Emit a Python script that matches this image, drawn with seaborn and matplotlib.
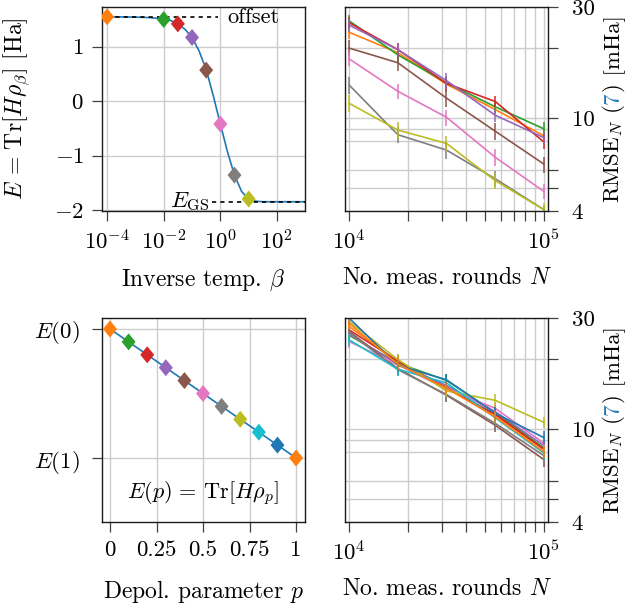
import matplotlib
matplotlib.use("Agg")
import numpy as np
import pandas as pd
import matplotlib.pyplot as plt
from matplotlib.path import Path
from matplotlib.markers import MarkerStyle
from matplotlib.ticker import FixedLocator, FixedFormatter, NullFormatter
import seaborn as sns

# ---------------------------------------------------------------- data
# thermal energy curve E(beta)
beta_curve = [1.0e-4, 1.0e-3, 3.16e-3, 1.0e-2, 1.78e-2, 3.16e-2, 5.62e-2, 1.0e-1,
              1.78e-1, 3.16e-1, 5.62e-1, 1.0, 1.78, 3.16, 5.62, 10.0, 17.8, 31.6,
              100.0, 1000.0]
energy_curve = [1.55, 1.545, 1.535, 1.51, 1.48, 1.42, 1.32, 1.17, 0.92, 0.58, 0.10,
                -0.42, -0.93, -1.36, -1.66, -1.80, -1.84, -1.85, -1.85, -1.85]

# sampled inverse temperatures
beta_points = [1.0e-4, 1.0e-2, 3.16e-2, 1.0e-1, 3.16e-1, 1.0, 3.16, 10.0]
energy_points = [1.55, 1.50, 1.42, 1.17, 0.57, -0.42, -1.36, -1.80]
beta_colors = ["C1", "C2", "C3", "C4", "C5", "C6", "C7", "C8"]

energy_offset = 1.55
energy_gs = -1.85

# depolarised states, energy expressed as fraction between E(0) and E(1)
p_points = [0.0, 0.1, 0.2, 0.3, 0.4, 0.5, 0.6, 0.7, 0.8, 0.9, 1.0]
energy_depol = [0.0, 0.1, 0.2, 0.3, 0.4, 0.5, 0.6, 0.7, 0.8, 0.9, 1.0]
p_colors = ["C1", "C2", "C3", "C4", "C5", "C6", "C7", "C8", "C9", "C0", "C1"]

# number of measurement rounds
rounds = [1.0e4, 1.78e4, 3.16e4, 5.62e4, 1.0e5]

# RMSE [mHa] for the thermal states (one row per beta)
thermal_rmse = [
    [23.4, 19.1, 14.0, 10.9, 8.40],
    [26.2, 18.7, 14.2, 11.2, 9.00],
    [25.7, 19.7, 14.1, 11.8, 7.90],
    [25.1, 19.7, 14.5, 10.3, 8.25],
    [20.0, 17.3, 12.2, 8.80, 6.35],
    [18.0, 13.05, 10.1, 6.80, 4.85],
    [13.9, 8.50, 7.30, 5.50, 4.05],
    [11.6, 8.90, 7.80, 5.40, 4.05],
]
thermal_err = [
    [1.5, 1.3, 1.0, 0.7, 0.50],
    [1.5, 1.2, 0.9, 0.7, 0.60],
    [1.6, 1.3, 1.0, 0.6, 0.55],
    [1.6, 1.4, 1.1, 0.7, 0.50],
    [1.7, 1.4, 1.0, 0.7, 0.50],
    [1.3, 1.0, 0.8, 0.55, 0.35],
    [1.2, 0.7, 0.6, 0.45, 0.15],
    [1.0, 0.75, 0.6, 0.45, 0.30],
]

# RMSE [mHa] for the depolarised states (one row per p)
depol_rmse = [
    [27.6, 19.5, 15.2, 11.5, 8.20],
    [25.3, 19.2, 16.2, 11.8, 8.30],
    [26.7, 19.6, 15.0, 11.6, 8.20],
    [25.6, 19.0, 15.4, 11.9, 8.50],
    [26.3, 18.2, 14.0, 10.4, 7.40],
    [23.8, 18.9, 14.9, 12.3, 8.70],
    [26.0, 18.0, 14.1, 10.6, 7.70],
    [29.0, 19.9, 14.6, 13.3, 10.7],
    [24.2, 18.1, 15.8, 11.2, 7.90],
    [30.0, 18.8, 16.3, 11.7, 9.20],
    [28.5, 19.0, 15.0, 11.3, 8.00],
]
depol_err = [
    [1.6, 1.1, 0.9, 0.7, 0.5],
    [1.5, 1.1, 1.0, 0.7, 0.5],
    [1.6, 1.2, 0.9, 0.7, 0.5],
    [1.5, 1.1, 0.9, 0.7, 0.5],
    [1.6, 1.1, 0.9, 0.7, 0.5],
    [1.5, 1.1, 0.9, 0.7, 0.5],
    [1.6, 1.1, 0.9, 0.7, 0.5],
    [1.7, 1.2, 0.9, 0.8, 0.6],
    [1.5, 1.1, 0.9, 0.7, 0.5],
    [1.7, 1.1, 1.0, 0.7, 0.6],
    [1.6, 1.1, 0.9, 0.7, 0.5],
]

rmse_ticks = [4, 10, 30]
rmse_minor = [5, 6, 20]
rmse_extra_grid = [8, 9]

# ---------------------------------------------------------------- style
sns.set_theme(style="ticks")
plt.rcParams.update({
    "font.family": ["cmr10", "DejaVu Serif"],
    "mathtext.fontset": "cm",
    "axes.formatter.use_mathtext": True,
    "font.size": 16,
    "axes.labelsize": 17,
    "xtick.labelsize": 16.5,
    "ytick.labelsize": 16.5,
    "axes.edgecolor": "0.1",
    "axes.linewidth": 1.0,
    "xtick.color": "0.25",
    "ytick.color": "0.25",
    "xtick.labelcolor": "black",
    "ytick.labelcolor": "black",
    "xtick.direction": "out",
    "ytick.direction": "out",
    "xtick.major.size": 7,
    "ytick.major.size": 7,
    "xtick.minor.size": 7,
    "ytick.minor.size": 7,
    "xtick.major.width": 0.9,
    "ytick.major.width": 0.9,
    "xtick.minor.width": 0.9,
    "ytick.minor.width": 0.9,
    "xtick.major.pad": 6,
    "xtick.minor.pad": 6,
    "ytick.major.pad": 6,
    "text.color": "black",
    "axes.labelcolor": "black",
})
tab = dict(zip([f"C{i}" for i in range(10)], sns.color_palette("tab10")))
grid_kw = dict(color="#cccccc", lw=1.0)

W, H = 629, 604
fig = plt.figure(figsize=(W / 100, H / 100), dpi=100)


def box(x0, y0, x1, y1):
    return [x0 / W, 1 - y1 / H, (x1 - x0) / W, (y1 - y0) / H]


ax_tl = fig.add_axes(box(102, 7, 305, 211))
ax_tr = fig.add_axes(box(345, 7, 548, 211))
ax_bl = fig.add_axes(box(102, 318, 305, 522))
ax_br = fig.add_axes(box(345, 318, 548, 522))

diamond = MarkerStyle(Path([(0, 1), (0.82, 0), (0, -1), (-0.82, 0), (0, 1)],
                           [Path.MOVETO, Path.LINETO, Path.LINETO, Path.LINETO,
                            Path.CLOSEPOLY]))
xlabel_y = -0.275

# ---------------------------------------------------------------- thermal energy
ax = ax_tl
sns.lineplot(x=beta_curve, y=energy_curve, color=tab["C0"], lw=1.2, ax=ax, zorder=2)
ax.plot([1e-4, 0.8], [energy_offset] * 2, color="black", lw=1.2,
        ls=(0, (2.5, 2.5)), zorder=2.5)
ax.plot([0.5, 1e3], [energy_gs] * 2, color="black", lw=1.2,
        ls=(0, (2.5, 2.5)), zorder=2.5)
beta_df = pd.DataFrame({"beta": beta_points, "E": energy_points, "c": beta_colors})
sns.scatterplot(data=beta_df, x="beta", y="E", hue="c",
                palette={c: tab[c] for c in beta_colors}, marker=diamond, s=150,
                edgecolor="none", linewidth=0, legend=False, ax=ax, zorder=3)
ax.text(1.75, energy_offset, "offset", ha="left", va="center", fontsize=16)
ax.text(0.40, energy_gs - 0.1, r"$E_{\rm GS}$", ha="right", va="baseline",
        fontsize=16.5)
ax.set_xscale("log")
ax.set_xlim(10 ** -4.18, 10 ** 2.99)
ax.set_ylim(-2.02, 1.73)
ax.xaxis.set_major_locator(FixedLocator([1e-4, 1e-2, 1e0, 1e2]))
ax.xaxis.set_minor_locator(FixedLocator([]))
ax.set_yticks([-2, -1, 0, 1])
ax.grid(True, which="major", **grid_kw)
ax.set_axisbelow(True)
ax.set_xlabel(r"Inverse temp. $\beta$")
ax.xaxis.set_label_coords(0.5, xlabel_y)
ax.set_ylabel(r"$E\,=\,\mathrm{Tr}[H\rho_\beta]$ [Ha]")
ax.yaxis.set_label_coords(-0.345, 0.5)

# ---------------------------------------------------------------- depolarised energy
ax = ax_bl
sns.lineplot(x=p_points, y=energy_depol, color=tab["C0"], lw=1.2, ax=ax, zorder=2)
p_df = pd.DataFrame({"p": p_points, "E": energy_depol, "idx": range(len(p_points))})
sns.scatterplot(data=p_df, x="p", y="E", hue="idx",
                palette=[tab[c] for c in p_colors], marker=diamond, s=150,
                edgecolor="none", linewidth=0, legend=False, ax=ax, zorder=3)
ax.text(0.5, 1.27, r"$E(p)\,=\,\mathrm{Tr}[H\rho_p]$", ha="center", va="center",
        fontsize=16)
ax.set_xlim(-0.043, 1.048)
ax.set_ylim(1.496, -0.085)
ax.set_xticks([0, 0.25, 0.5, 0.75, 1])
ax.set_xticklabels(["0", "0.25", "0.5", "0.75", "1"])
ax.set_yticks([0, 1])
ax.set_yticklabels([r"$E(0)$", r"$E(1)$"])
ax.tick_params(axis="y", pad=9)
ax.grid(True, which="major", **grid_kw)
ax.set_axisbelow(True)
ax.set_xlabel(r"Depol. parameter $p$")
ax.xaxis.set_label_coords(0.5, xlabel_y)
ax.set_ylabel("")


# ---------------------------------------------------------------- RMSE panels
def rmse_panel(ax, rmse, err, colors):
    rows = []
    for k, (vals, c) in enumerate(zip(rmse, colors)):
        for n, v in zip(rounds, vals):
            rows.append({"N": n, "rmse": v, "series": k})
    df = pd.DataFrame(rows)
    sns.lineplot(data=df, x="N", y="rmse", hue="series",
                 palette=[tab[c] for c in colors], lw=1.2, legend=False,
                 ax=ax, zorder=2)
    for vals, e, c in zip(rmse, err, colors):
        ax.errorbar(rounds, vals, yerr=e, fmt="none", ecolor=tab[c],
                    elinewidth=1.1, capsize=0, zorder=2)
    ax.set_xscale("log")
    ax.set_yscale("log")
    ax.set_xlim(9.54e3, 1.048e5)
    ax.set_ylim(4, 30)
    ax.xaxis.set_major_locator(FixedLocator([1e4, 1e5]))
    ax.xaxis.set_minor_locator(FixedLocator([k * 1e4 for k in range(2, 10)]))
    ax.xaxis.set_minor_formatter(NullFormatter())
    ax.yaxis.set_major_locator(FixedLocator(rmse_ticks))
    ax.yaxis.set_major_formatter(FixedFormatter([str(t) for t in rmse_ticks]))
    ax.yaxis.set_minor_locator(FixedLocator(rmse_minor))
    ax.yaxis.set_minor_formatter(NullFormatter())
    ax.yaxis.tick_right()
    ax.tick_params(axis="y", which="both", left=False, right=True, pad=10)
    ax.grid(True, which="both", **grid_kw)
    for g in rmse_extra_grid:
        ax.axhline(g, zorder=0.5, **grid_kw)
    ax.set_axisbelow(True)
    ax.set_ylabel("")
    ax.set_xlabel(r"No. meas. rounds $N$")
    ax.xaxis.set_label_coords(0.5, xlabel_y)


rmse_panel(ax_tr, thermal_rmse, thermal_err, beta_colors)
rmse_panel(ax_br, depol_rmse, depol_err, p_colors)

# ---------------------------------------------------------------- right-hand labels
fig.canvas.draw()
renderer = fig.canvas.get_renderer()


def rmse_label(ax):
    pieces = [(r"RMSE$_N$ (", "black"), ("7", tab["C0"]), (") [mHa]", "black")]
    texts = [fig.text(0, 0, s, color=c, rotation=90, rotation_mode="anchor",
                      ha="left", va="baseline", fontsize=16.5,
                      transform=None) for s, c in pieces]
    lengths = [t.get_window_extent(renderer).height for t in texts]
    bb = ax.get_window_extent(renderer)
    x_base = 619
    y = (bb.y0 + bb.y1) / 2 - sum(lengths) / 2
    for t, l in zip(texts, lengths):
        t.set_position((x_base, y))
        y += l


rmse_label(ax_tr)
rmse_label(ax_br)

fig.savefig("out.png", dpi=100)
